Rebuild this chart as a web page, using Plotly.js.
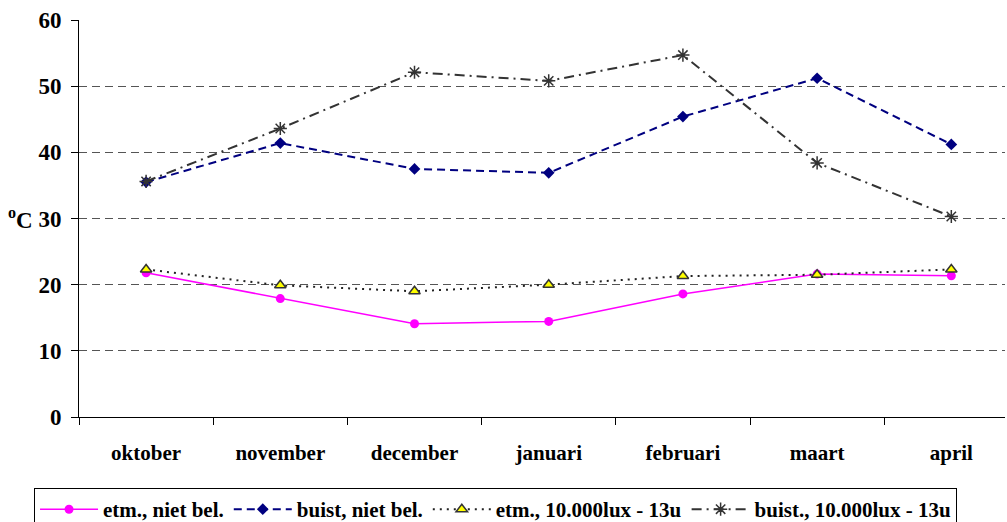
<!DOCTYPE html>
<html>
<head>
<meta charset="utf-8">
<script src="https://cdn.plot.ly/plotly-3.0.1.min.js"></script>
<style>html,body{margin:0;padding:0;overflow:hidden;background:#fff;}</style>
</head>
<body>
<div id="chart" style="width:1007px;height:522px;"></div>
<script>
const months = ["oktober","november","december","januari","februari","maart","april"];
const etmNietBel = [21.8, 17.9, 14.1, 14.45, 18.6, 21.6, 21.35];
const buistNietBel = [35.5, 41.4, 37.5, 36.9, 45.4, 51.2, 41.2];
const etmLux = [22.3, 19.9, 19.0, 20.0, 21.3, 21.5, 22.3];
const buistLux = [35.6, 43.6, 52.1, 50.8, 54.7, 38.4, 30.3];
const seriesNames = ["etm., niet bel.", "buist, niet bel.", "etm., 10.000lux - 13u", "buist., 10.000lux - 13u"];
const yTicks = [0,10,20,30,40,50,60];

const serif = "Liberation Serif";

const traces = [
  {x: months, y: etmNietBel, name: seriesNames[0], type: "scatter", mode: "lines+markers",
   line: {color: "#FF00FF", width: 1.5},
   marker: {symbol: "circle", size: 9, color: "#FF00FF"}},
  {x: months, y: buistNietBel, name: seriesNames[1], type: "scatter", mode: "lines+markers",
   line: {color: "#000080", width: 2, dash: "8px,5px"},
   marker: {symbol: "diamond", size: 9, color: "#000080"}},
  {x: months, y: etmLux, name: seriesNames[2], type: "scatter", mode: "lines+markers",
   line: {color: "#222222", width: 2, dash: "2px,5px"},
   marker: {symbol: "triangle-up", size: 10, color: "#FFFF00", line: {color: "#333333", width: 1.5}}},
  {x: months, y: buistLux, name: seriesNames[3], type: "scatter", mode: "lines+markers",
   line: {color: "#333333", width: 2, dash: "10px,5px,2px,5px"},
   marker: {symbol: "asterisk-open", size: 11, color: "#333333", line: {color: "#333333", width: 1.5}}}
];

const layout = {
  width: 1007, height: 522,
  margin: {l: 79, r: 2, t: 20, b: 105, pad: 0},
  paper_bgcolor: "#fff", plot_bgcolor: "#fff",
  showlegend: true,
  font: {family: serif, color: "#000"},
  xaxis: {
    type: "category", range: [-0.5, 6.4],
    showline: true, linecolor: "#000", linewidth: 1,
    ticks: "outside", tickson: "boundaries", ticklen: 7, tickcolor: "#000", tickwidth: 1,
    ticklabelstandoff: 17,
    showgrid: false, zeroline: false,
    tickfont: {family: serif, size: 21, color: "#000", weight: "bold"},
    fixedrange: true
  },
  yaxis: {
    range: [0, 60], tickvals: yTicks, ticktext: yTicks.map(String),
    showline: true, linecolor: "#000", linewidth: 1,
    ticks: "outside", ticklen: 7, tickcolor: "#000", tickwidth: 1,
    ticklabelstandoff: 5,
    showgrid: true, gridcolor: "#555", gridwidth: 1, griddash: "8px,5px",
    zeroline: false,
    tickfont: {family: serif, size: 23, color: "#000", weight: "bold"},
    fixedrange: true
  },
  legend: {
    orientation: "h", x: 0.0338, xanchor: "left", y: 0.065, yanchor: "top",
    xref: "container", yref: "container",
    bordercolor: "#000", borderwidth: 1, bgcolor: "#fff",
    font: {family: serif, size: 21, color: "#000", weight: "bold"},
    itemwidth: 58, tracegroupgap: 0
  },
  annotations: [{
    text: "<sup>o</sup>C", xref: "paper", yref: "y", x: -0.048, y: 30, xanchor: "right", yanchor: "middle",
    showarrow: false, font: {family: serif, size: 23, color: "#000", weight: "bold"}
  }]
};

Plotly.newPlot("chart", traces, layout, {displayModeBar: false, staticPlot: true});
</script>
</body>
</html>
